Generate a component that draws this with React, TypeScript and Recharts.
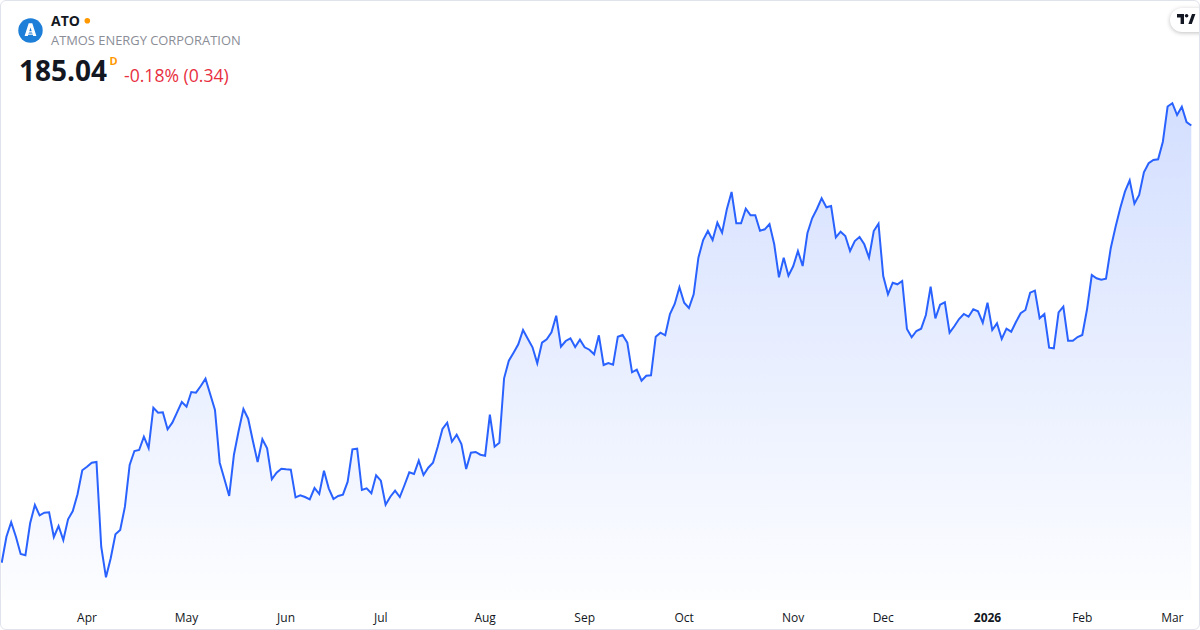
import { AreaChart, Area, XAxis, YAxis } from "recharts";

// daily closes, Mar 6 2025 -> Mar 6 2026
const closes = [
  141.32, 143.92, 145.36, 143.92, 142.19, 142.06, 145.26, 147.09, 146.06, 146.32,
  146.36, 143.89, 144.99, 143.59, 145.66, 146.49, 148.16, 150.56, 150.92, 151.32,
  151.39, 142.92, 139.86, 141.76, 144.16, 144.59, 146.92, 151.09, 152.49,
  152.59, 153.92, 152.79, 156.82, 156.32, 156.36, 154.66, 155.32, 156.36, 157.39,
  156.92, 158.39, 158.32, 158.99, 159.72, 158.16, 156.59, 151.32, 149.66, 147.99,
  152.12, 154.52, 156.69, 155.72, 153.49, 151.39, 153.66,
  152.76, 149.66, 150.32, 150.72, 150.66, 150.62, 147.86, 148.06, 147.89, 147.66,
  148.79, 148.19, 150.52, 148.76, 147.69, 147.99, 148.12, 149.42, 152.66, 152.72,
  148.59, 148.76, 148.26, 150.06, 149.52, 147.12, 147.92, 148.52, 147.89, 149.09,
  150.36, 150.19, 151.52, 150.09, 150.82, 151.32, 152.92, 154.69, 155.32, 153.42,
  154.12, 153.19, 150.69, 152.32, 152.39, 152.12, 152.02, 156.12, 152.92, 153.32,
  159.76, 161.52, 162.32, 163.16, 164.59,
  163.72, 162.86, 161.26, 163.32, 163.66, 164.36, 166.02, 162.92, 163.49, 163.76,
  162.89, 163.62, 162.86, 162.62, 162.16, 164.06, 161.09, 161.29, 161.12, 163.92,
  164.09, 163.32, 160.36, 160.62, 159.52, 160.02, 160.06,
  163.92, 164.32, 164.06, 166.19, 167.19, 168.86, 167.32, 166.79, 168.16, 171.82,
  173.59, 174.49, 173.59, 175.32, 174.32, 176.66, 178.39, 175.26, 175.26, 176.72,
  176.06, 176.06, 174.52, 174.66, 175.19, 173.16, 169.86, 171.82,
  170.02, 170.96, 172.49, 170.99, 174.26, 175.76, 176.69, 177.76, 176.86, 176.99,
  173.86, 174.42, 173.99, 172.49, 173.49, 173.89, 173.16, 171.82, 174.49, 175.22,
  169.99, 168.16, 169.32, 169.16, 169.49, 164.69, 163.86,
  164.49, 164.72, 166.09, 168.92, 165.76, 167.12, 167.36, 164.32, 164.96, 165.69,
  166.19, 165.92, 166.66, 166.46, 165.32, 167.32, 164.59, 165.26, 163.69, 164.72,
  164.42, 165.39, 166.26, 166.59, 168.32, 168.52, 165.76, 166.19,
  162.82, 162.76, 166.36, 166.92, 163.52, 163.52, 163.89, 164.09, 166.66, 170.09,
  169.76, 169.62, 169.72, 172.76, 174.86, 176.76, 178.42, 179.56, 177.22, 178.09,
  180.36, 181.26, 181.59, 181.66, 183.42, 186.94, 187.27, 186.09, 186.92, 185.38,
  185.04,
];

// index of the first session of each month, and its label
const monthTickIdx = [18, 39, 60, 80, 102, 123, 144, 167, 186, 208, 228, 247];
const monthTickLabels = ["Apr", "May", "Jun", "Jul", "Aug", "Sep", "Oct", "Nov", "Dec", "2026", "Feb", "Mar"];

const symbol = "ATO";
const companyName = "ATMOS ENERGY CORPORATION";
const lastPrice = "185.04";
const changeText = "-0.18% (0.34)";

const FONT = "'Open Sans', 'Noto Sans', sans-serif";
const LINE = "#2962ff";

const data = closes.map((c, i) => ({ i, close: c }));

function MonthTick(props: any) {
  const { x, y, payload } = props;
  const k = monthTickIdx.indexOf(payload.value);
  const label = monthTickLabels[k];
  const isYear = /^\d{4}$/.test(label);
  return (
    <text
      x={x}
      y={y + 17}
      textAnchor="middle"
      dominantBaseline="central"
      fontFamily={FONT}
      fontSize={12}
      fontWeight={isYear ? 700 : 400}
      fill="#131722"
    >
      {label}
    </text>
  );
}

export default function App() {
  return (
    <div
      style={{
        position: "absolute",
        left: 0,
        top: 0,
        width: 1200,
        height: 630,
        boxSizing: "border-box",
        border: "1px solid #e0e3eb",
        borderRadius: 6,
        background: "#fff",
        overflow: "hidden",
        fontFamily: FONT,
      }}
    >
      <div style={{ position: "absolute", left: -1, top: -1 }}>
        <AreaChart
          width={1200}
          height={630}
          data={data}
          margin={{ top: 80, right: 8.7, bottom: 0, left: 1.7 }}
        >
          <defs>
            <linearGradient id="atoFill" x1="0" y1="0" x2="0" y2="1">
              <stop offset="0%" stopColor={LINE} stopOpacity={0.34} />
              <stop offset="100%" stopColor={LINE} stopOpacity={0.02} />
            </linearGradient>
          </defs>
          <XAxis
            type="number"
            dataKey="i"
            domain={[0, closes.length - 1]}
            ticks={monthTickIdx}
            interval={0}
            height={30}
            axisLine={false}
            tickLine={false}
            tickSize={0}
            tickMargin={0}
            tick={<MonthTick />}
          />
          <YAxis hide domain={[137.59, 189.59]} allowDataOverflow />
          <Area
            type="linear"
            dataKey="close"
            stroke={LINE}
            strokeWidth={2}
            fill="url(#atoFill)"
            dot={false}
            activeDot={false}
            isAnimationActive={false}
          />
        </AreaChart>
      </div>

      {/* header */}
      <svg width={300} height={100} style={{ position: "absolute", left: -1, top: -1 }}>
        <circle cx={30.5} cy={30.5} r={12.2} fill="#1e7fd8" />
        <path d="M24.6 36 L28.7 23.2 H32.3 L36.4 36 H33.2 L30.5 27.6 L27.8 36 Z" fill="#fff" />
        <rect x={27.4} y={31.2} width={6.2} height={1.3} fill="#fff" />
        <rect x={26.6} y={33.6} width={7.8} height={1.1} fill="#fff" />
        <text x={51} y={26} fontFamily={FONT} fontSize={14} fontWeight={700} fill="#131722">
          {symbol}
        </text>
        <circle cx={87.3} cy={20.8} r={2.8} fill="#ff9800" />
        <text x={51} y={45} fontFamily={FONT} fontSize={12.9} fill="#8a8d96">
          {companyName}
        </text>
        <text x={19} y={81} fontFamily={FONT} fontSize={28} fontWeight={700} fill="#131722">
          {lastPrice}
        </text>
        <text x={109.5} y={65} fontFamily={FONT} fontSize={11} fontWeight={700} fill="#ff9800">
          D
        </text>
        <text x={124} y={81.5} fontFamily={FONT} fontSize={17.6} fill="#e8303f">
          {changeText}
        </text>
      </svg>

      {/* TradingView badge */}
      <div
        style={{
          position: "absolute",
          left: 1169,
          top: 7,
          width: 48,
          height: 24,
          borderRadius: 12,
          background: "#fff",
          boxShadow: "0 1px 4px rgba(0,0,0,0.25)",
        }}
      >
        <svg width={20} height={12} style={{ position: "absolute", left: 7, top: 6 }}>
          <path d="M0 0 H7 V10 H3.6 V3.4 H0 Z" fill="#131722" />
          <circle cx={9.6} cy={1.8} r={1.8} fill="#131722" />
          <path d="M11.4 10 L15 0 H18.4 L14.8 10 Z" fill="#131722" />
        </svg>
      </div>
    </div>
  );
}
